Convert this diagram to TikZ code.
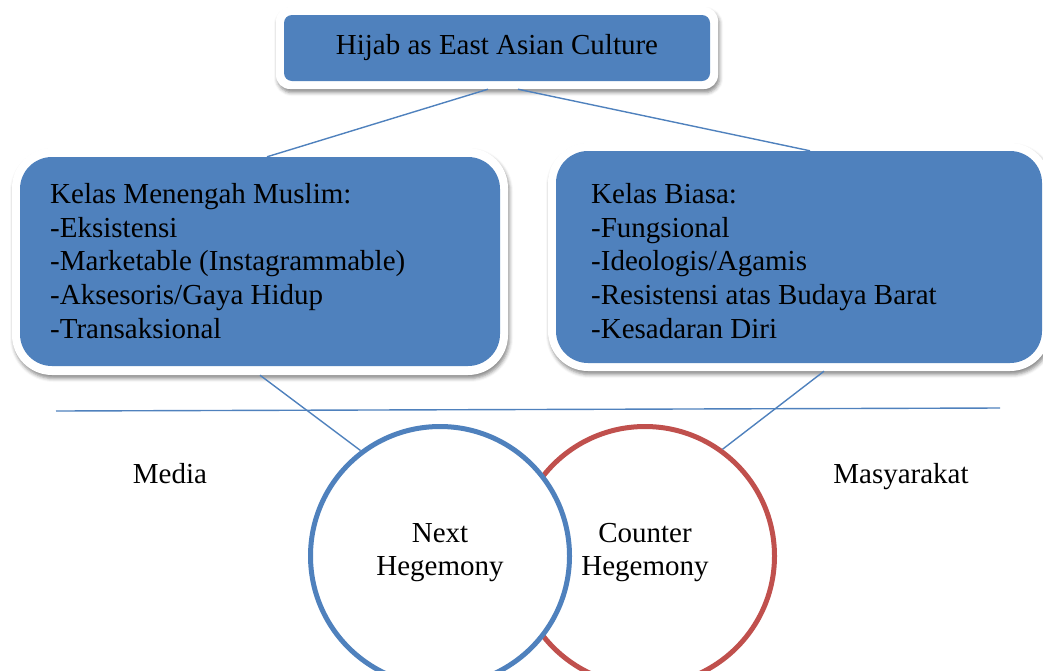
\documentclass[tikz,border=0pt]{standalone}
\usepackage{fontspec}
\setmainfont{Liberation Serif}
\usetikzlibrary{shadows.blur}
\definecolor{obl}{HTML}{4F81BD}
\definecolor{ored}{HTML}{C0504D}
\begin{document}
\begin{tikzpicture}[x=1pt,y=-1pt,
  plate/.style={rectangle, fill=white, inner sep=0pt,
    blur shadow={shadow xshift=1.5pt, shadow yshift=-3.5pt, shadow blur radius=3.5pt, shadow opacity=45}},
  bluebox/.style={rectangle, fill=obl, inner sep=0pt},
  txt/.style={font=\fontsize{29}{33.8}\selectfont, text=black, inner sep=0pt},
  conn/.style={draw=obl, line width=1.4pt},
  ring/.style={circle, draw=#1, fill=white, line width=5pt, minimum size=259pt, inner sep=0pt}]
\useasboundingbox (0,0) rectangle (1043,670);

% top box
\node[plate, minimum width=442pt, minimum height=82pt, rounded corners=14pt] (topplate) at (497,48) {};
\node[bluebox, minimum width=426pt, minimum height=66pt, rounded corners=8pt] (top) at (497,48) {};
\node[txt] (toptxt) at (497,48) {Hijab as East Asian Culture};

% left box
\node[plate, minimum width=496pt, minimum height=227pt, rounded corners=40pt] (leftplate) at (260,261.5) {};
\node[bluebox, minimum width=480pt, minimum height=209pt, rounded corners=32pt] (left) at (260,261.5) {};
\node[txt, anchor=north west, align=left] (lefttxt) at (50,183)
  {Kelas Menengah Muslim:\\-Eksistensi\\-Marketable (Instagrammable)\\-Aksesoris/Gaya Hidup\\-Transaksional};

% right box
\node[plate, minimum width=502pt, minimum height=228pt, rounded corners=40pt] (rightplate) at (799,257) {};
\node[bluebox, minimum width=486pt, minimum height=212pt, rounded corners=32pt] (right) at (799,257) {};
\node[txt, anchor=north west, align=left] (righttxt) at (591,183)
  {Kelas Biasa:\\-Fungsional\\-Ideologis/Agamis\\-Resistensi atas Budaya Barat\\-Kesadaran Diri};

% circles (blue, white-filled, lies over red)
\node[ring=ored] (counter) at (645,556) {};
\node[ring=obl] (next) at (440,556) {};
\node[txt, anchor=north, align=center, font=\fontsize{29}{33}\selectfont] (nexttxt) at (440,523) {Next\\Hegemony};
\node[txt, anchor=north, align=center, font=\fontsize{29}{33}\selectfont] (countertxt) at (645,523) {Counter\\Hegemony};

% side labels
\node[txt, anchor=base] (media) at (170,483) {Media};
\node[txt, anchor=base] (masy) at (901,483) {Masyarakat};

% horizontal line
\coordinate (hl) at (56,411);
\coordinate (hr) at (1000,408);
\draw[conn] (hl) -- (hr);

% connectors
\draw[conn] ([xshift=-9pt]topplate.south) -- ([xshift=7pt]left.north);
\draw[conn] ([xshift=21pt]topplate.south) -- ([xshift=11pt]right.north);
\draw[conn] (leftplate.south) -- (next.127.5);
\draw[conn] ([xshift=25pt]rightplate.south) -- (counter.54);
\end{tikzpicture}
\end{document}
